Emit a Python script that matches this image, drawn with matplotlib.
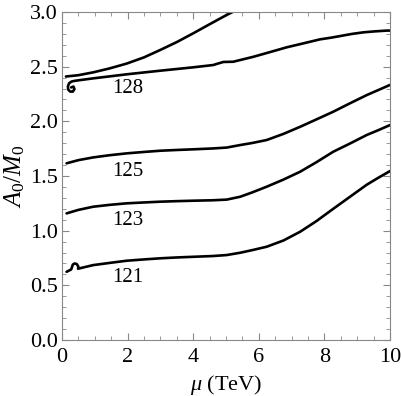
import matplotlib
matplotlib.use("Agg")
import matplotlib.pyplot as plt
import numpy as np

plt.rcParams['font.family'] = ['Liberation Serif', 'DejaVu Serif']
plt.rcParams['mathtext.fontset'] = 'custom'
plt.rcParams['mathtext.rm'] = 'Liberation Serif'
plt.rcParams['mathtext.it'] = 'Liberation Serif:italic'

# Contours of Higgs mass (GeV) in the (mu, A0/M0) plane
upper_x = [0.12, 0.5, 0.95, 1.45, 1.97, 2.5, 2.99, 3.5, 4.0, 4.5, 5.02, 5.2]
upper_y = [2.41, 2.422, 2.448, 2.484, 2.528, 2.585, 2.652, 2.725, 2.805, 2.888, 2.973, 3.0]

c128_x = [0.28, 0.35, 0.38, 0.33, 0.25, 0.19, 0.18, 0.22, 0.30, 0.40, 0.95, 1.97, 2.99, 4.0, 4.61, 4.75, 4.92, 5.22, 5.83, 6.35, 6.85, 7.37, 7.87, 8.2, 8.48, 8.85, 9.19, 9.5, 9.9, 10.0]
c128_y = [2.31, 2.318, 2.295, 2.272, 2.272, 2.29, 2.32, 2.35, 2.365, 2.371, 2.393, 2.43, 2.463, 2.494, 2.515, 2.528, 2.543, 2.545, 2.59, 2.634, 2.677, 2.714, 2.75, 2.765, 2.78, 2.8, 2.814, 2.822, 2.83, 2.83]

c125_x = [0.14, 0.5, 0.95, 1.45, 1.97, 2.5, 2.99, 3.5, 4.0, 4.6, 5.02, 5.43, 5.8, 6.24, 6.75, 7.26, 7.76, 8.27, 8.78, 9.29, 9.65, 10.0]
c125_y = [1.616, 1.645, 1.67, 1.69, 1.707, 1.72, 1.731, 1.738, 1.744, 1.752, 1.76, 1.783, 1.802, 1.829, 1.885, 1.95, 2.018, 2.088, 2.165, 2.24, 2.287, 2.333]

c123_x = [0.14, 0.5, 0.95, 1.45, 1.97, 2.5, 2.99, 3.5, 4.0, 4.6, 5.02, 5.43, 5.8, 6.24, 6.75, 7.26, 7.75, 8.27, 8.8, 9.29, 9.65, 10.0]
c123_y = [1.158, 1.19, 1.219, 1.236, 1.25, 1.258, 1.265, 1.27, 1.274, 1.278, 1.284, 1.31, 1.35, 1.402, 1.467, 1.539, 1.625, 1.722, 1.8, 1.875, 1.92, 1.966]

c121_x = [0.14, 0.28, 0.33, 0.38, 0.45, 0.5, 0.49, 0.6, 0.95, 1.45, 1.97, 2.5, 2.99, 3.5, 4.0, 4.6, 5.02, 5.43, 5.8, 6.24, 6.75, 7.26, 7.76, 8.27, 8.78, 9.29, 9.65, 10.0]
c121_y = [0.624, 0.645, 0.69, 0.70, 0.695, 0.67, 0.652, 0.66, 0.685, 0.705, 0.725, 0.737, 0.747, 0.755, 0.761, 0.768, 0.777, 0.798, 0.822, 0.853, 0.91, 0.99, 1.088, 1.2, 1.31, 1.42, 1.485, 1.545]

labels = ['128', '125', '123', '121']
label_x = [2.0, 2.0, 2.0, 2.0]
label_y = [2.30, 1.54, 1.09, 0.57]

fig = plt.figure(figsize=(4.02, 3.96), dpi=100)
ax = fig.add_axes([62/402, 1-340/396, 328/402, 328/396])

for xs, ys in [(upper_x, upper_y), (c128_x, c128_y), (c125_x, c125_y), (c123_x, c123_y), (c121_x, c121_y)]:
    ax.plot(xs, ys, color='black', lw=1.9, solid_joinstyle='round', solid_capstyle='round')

for t, x, y in zip(labels, label_x, label_y):
    ax.text(x, y, t, fontsize=15, ha='center', va='center')

ax.set_xlim(0, 10)
ax.set_ylim(0, 3)
ax.set_xticks([0, 2, 4, 6, 8, 10])
ax.set_yticks([0, 0.5, 1.0, 1.5, 2.0, 2.5, 3.0])
ax.set_yticklabels(['0.0', '0.5', '1.0', '1.5', '2.0', '2.5', '3.0'])
ax.set_xticks(np.arange(0, 10.01, 0.5), minor=True)
ax.set_yticks(np.arange(0, 3.01, 0.1), minor=True)
ax.tick_params(which='both', direction='in', top=True, right=True, color='#888888', labelsize=16)
ax.tick_params(which='major', length=5, width=0.8)
ax.tick_params(which='minor', length=3, width=0.6)
ax.tick_params(axis='x', pad=6)
ax.tick_params(axis='y', pad=3)
for s in ax.spines.values():
    s.set_color('#888888')
    s.set_linewidth(0.8)

ax.set_xlabel(r'$\mu$ (TeV)', fontsize=16, labelpad=4)
ax.set_ylabel(r'$A_0/M_0$', fontsize=18, labelpad=2)

fig.savefig('out.png', dpi=100)
